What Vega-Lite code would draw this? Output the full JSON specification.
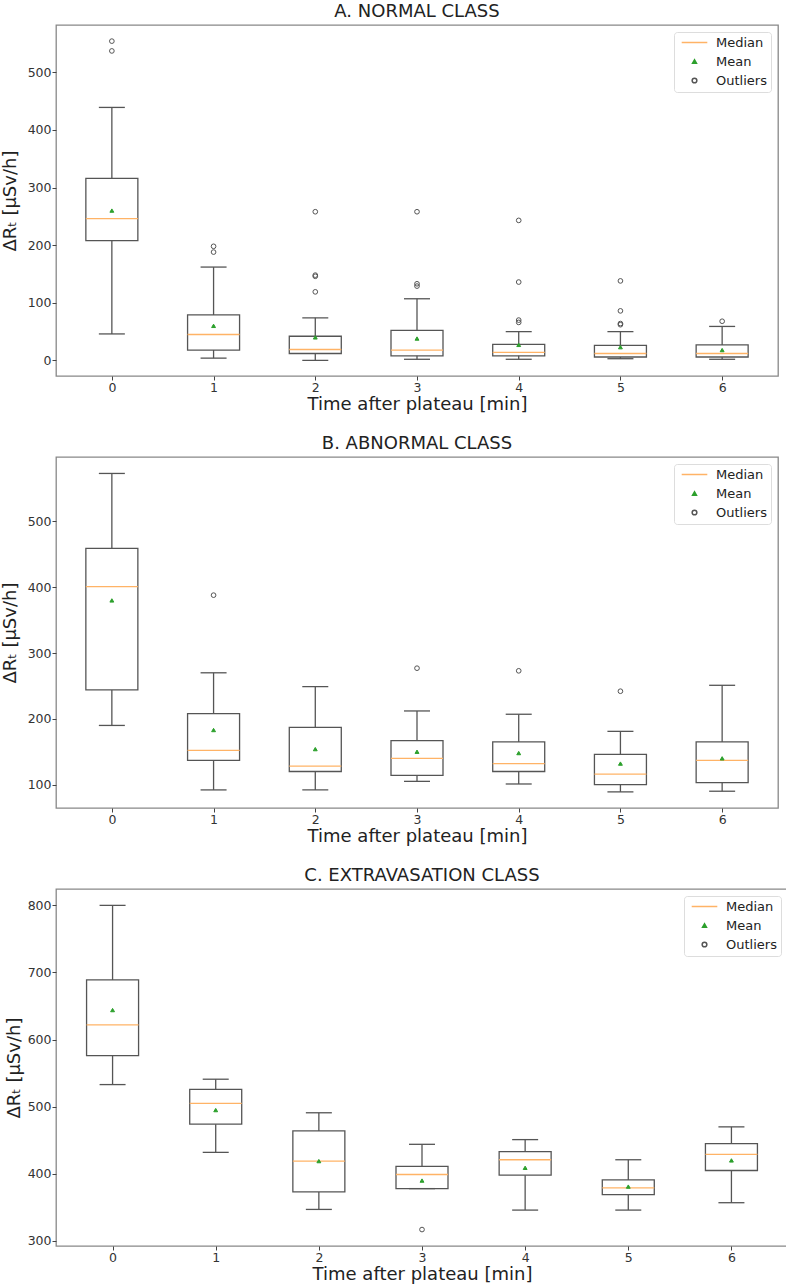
{
  "$schema": "https://vega.github.io/schema/vega-lite/v6.json",
  "description": "Box plots of dose rate decrease after plateau, three classes",
  "padding": {"left": 0, "top": 2, "right": 0, "bottom": 0},
  "spacing": 19,
  "align": "none",
  "datasets": {
    "boxes": [
      {"panel": "A", "t": 0, "lo": 46, "q1": 208, "med": 246, "q3": 316, "hi": 439},
      {"panel": "A", "t": 1, "lo": 4, "q1": 18, "med": 45, "q3": 79, "hi": 162},
      {"panel": "A", "t": 2, "lo": 0, "q1": 12, "med": 19, "q3": 42, "hi": 74},
      {"panel": "A", "t": 3, "lo": 2, "q1": 8, "med": 18, "q3": 52, "hi": 107},
      {"panel": "A", "t": 4, "lo": 2, "q1": 8, "med": 14, "q3": 28, "hi": 50},
      {"panel": "A", "t": 5, "lo": 3, "q1": 6, "med": 12, "q3": 26, "hi": 50},
      {"panel": "A", "t": 6, "lo": 2, "q1": 6, "med": 12, "q3": 27, "hi": 59},
      {"panel": "B", "t": 0, "lo": 190, "q1": 244, "med": 401, "q3": 459, "hi": 573},
      {"panel": "B", "t": 1, "lo": 92, "q1": 137, "med": 152, "q3": 208, "hi": 270},
      {"panel": "B", "t": 2, "lo": 92, "q1": 120, "med": 128, "q3": 187, "hi": 249},
      {"panel": "B", "t": 3, "lo": 105, "q1": 114, "med": 140, "q3": 167, "hi": 212},
      {"panel": "B", "t": 4, "lo": 101, "q1": 120, "med": 132, "q3": 165, "hi": 207},
      {"panel": "B", "t": 5, "lo": 89, "q1": 100, "med": 116, "q3": 146, "hi": 181},
      {"panel": "B", "t": 6, "lo": 90, "q1": 103, "med": 137, "q3": 165, "hi": 251},
      {"panel": "C", "t": 0, "lo": 533, "q1": 576, "med": 622, "q3": 689, "hi": 800},
      {"panel": "C", "t": 1, "lo": 432, "q1": 474, "med": 505, "q3": 526, "hi": 541},
      {"panel": "C", "t": 2, "lo": 347, "q1": 373, "med": 419, "q3": 464, "hi": 491},
      {"panel": "C", "t": 3, "lo": 378, "q1": 378, "med": 399, "q3": 411, "hi": 444},
      {"panel": "C", "t": 4, "lo": 346, "q1": 398, "med": 421, "q3": 433, "hi": 451},
      {"panel": "C", "t": 5, "lo": 346, "q1": 369, "med": 379, "q3": 391, "hi": 421},
      {"panel": "C", "t": 6, "lo": 357, "q1": 405, "med": 429, "q3": 445, "hi": 470}
    ],
    "points": [
      {"panel": "A", "t": 0, "v": 260, "stat": "Mean"},
      {"panel": "A", "t": 1, "v": 60, "stat": "Mean"},
      {"panel": "A", "t": 2, "v": 40, "stat": "Mean"},
      {"panel": "A", "t": 3, "v": 38, "stat": "Mean"},
      {"panel": "A", "t": 4, "v": 27, "stat": "Mean"},
      {"panel": "A", "t": 5, "v": 23, "stat": "Mean"},
      {"panel": "A", "t": 6, "v": 18, "stat": "Mean"},
      {"panel": "A", "t": 0, "v": 554, "stat": "Outliers"},
      {"panel": "A", "t": 0, "v": 537, "stat": "Outliers"},
      {"panel": "A", "t": 1, "v": 198, "stat": "Outliers"},
      {"panel": "A", "t": 1, "v": 188, "stat": "Outliers"},
      {"panel": "A", "t": 2, "v": 258, "stat": "Outliers"},
      {"panel": "A", "t": 2, "v": 148, "stat": "Outliers"},
      {"panel": "A", "t": 2, "v": 146, "stat": "Outliers"},
      {"panel": "A", "t": 2, "v": 119, "stat": "Outliers"},
      {"panel": "A", "t": 3, "v": 258, "stat": "Outliers"},
      {"panel": "A", "t": 3, "v": 133, "stat": "Outliers"},
      {"panel": "A", "t": 3, "v": 129, "stat": "Outliers"},
      {"panel": "A", "t": 4, "v": 243, "stat": "Outliers"},
      {"panel": "A", "t": 4, "v": 136, "stat": "Outliers"},
      {"panel": "A", "t": 4, "v": 70, "stat": "Outliers"},
      {"panel": "A", "t": 4, "v": 66, "stat": "Outliers"},
      {"panel": "A", "t": 5, "v": 138, "stat": "Outliers"},
      {"panel": "A", "t": 5, "v": 86, "stat": "Outliers"},
      {"panel": "A", "t": 5, "v": 64, "stat": "Outliers"},
      {"panel": "A", "t": 5, "v": 62, "stat": "Outliers"},
      {"panel": "A", "t": 6, "v": 68, "stat": "Outliers"},
      {"panel": "B", "t": 0, "v": 380, "stat": "Mean"},
      {"panel": "B", "t": 1, "v": 183, "stat": "Mean"},
      {"panel": "B", "t": 2, "v": 154, "stat": "Mean"},
      {"panel": "B", "t": 3, "v": 150, "stat": "Mean"},
      {"panel": "B", "t": 4, "v": 148, "stat": "Mean"},
      {"panel": "B", "t": 5, "v": 132, "stat": "Mean"},
      {"panel": "B", "t": 6, "v": 140, "stat": "Mean"},
      {"panel": "B", "t": 1, "v": 388, "stat": "Outliers"},
      {"panel": "B", "t": 3, "v": 277, "stat": "Outliers"},
      {"panel": "B", "t": 4, "v": 273, "stat": "Outliers"},
      {"panel": "B", "t": 5, "v": 242, "stat": "Outliers"},
      {"panel": "C", "t": 0, "v": 644, "stat": "Mean"},
      {"panel": "C", "t": 1, "v": 495, "stat": "Mean"},
      {"panel": "C", "t": 2, "v": 419, "stat": "Mean"},
      {"panel": "C", "t": 3, "v": 390, "stat": "Mean"},
      {"panel": "C", "t": 4, "v": 409, "stat": "Mean"},
      {"panel": "C", "t": 5, "v": 381, "stat": "Mean"},
      {"panel": "C", "t": 6, "v": 420, "stat": "Mean"},
      {"panel": "C", "t": 3, "v": 317, "stat": "Outliers"}
    ]
  },
  "vconcat": [
    {
      "title": "A. NORMAL CLASS",
      "width": 722,
      "height": 351,
      "data": {"name": "boxes"},
      "transform": [{"filter": "datum.panel === 'A'"}],
      "encoding": {
        "x": {"field": "t", "type": "quantitative", "scale": {"domain": [-0.5, 6.5], "nice": false, "zero": false},
              "axis": {"values": [0, 1, 2, 3, 4, 5, 6], "format": "d", "title": "Time after plateau [min]", "titlePadding": 2}}
      },
      "layer": [
        {"mark": {"type": "rule", "color": "#555", "strokeWidth": 1.3},
         "encoding": {"y": {"field": "lo", "type": "quantitative", "title": "ΔRₜ  [μSv/h]", "scale": {"domain": [-27, 582], "nice": false, "zero": false},
                            "axis": {"values": [0, 100, 200, 300, 400, 500], "titlePadding": 8}},
                      "y2": {"field": "hi"}}},
        {"mark": {"type": "bar", "size": 52, "fill": "white", "stroke": "#555", "strokeWidth": 1.3},
         "encoding": {"y": {"field": "q1", "type": "quantitative", "title": "ΔRₜ  [μSv/h]"}, "y2": {"field": "q3"}}},
        {"mark": {"type": "tick", "orient": "horizontal", "size": 52, "thickness": 1.3, "color": "#ffb366", "opacity": 1},
         "encoding": {"y": {"field": "med", "type": "quantitative", "title": "ΔRₜ  [μSv/h]"}}},
        {"mark": {"type": "tick", "orient": "horizontal", "size": 26, "thickness": 1.3, "color": "#555", "opacity": 1},
         "encoding": {"y": {"field": "lo", "type": "quantitative", "title": "ΔRₜ  [μSv/h]"}}},
        {"mark": {"type": "tick", "orient": "horizontal", "size": 26, "thickness": 1.3, "color": "#555", "opacity": 1},
         "encoding": {"y": {"field": "hi", "type": "quantitative", "title": "ΔRₜ  [μSv/h]"}}},
        {"data": {"name": "points"},
         "transform": [{"filter": "datum.panel === 'A'"}],
         "mark": {"type": "point", "filled": true, "opacity": 1, "strokeWidth": 1},
         "encoding": {
           "y": {"field": "v", "type": "quantitative", "title": "ΔRₜ  [μSv/h]"},
           "shape": {"field": "stat", "type": "nominal", "scale": {"domain": ["Median", "Mean", "Outliers"], "range": ["M-3.2,0L3.2,0", "triangle-up", "circle"]}, "legend": {"title": null}},
           "fill": {"field": "stat", "type": "nominal", "scale": {"domain": ["Median", "Mean", "Outliers"], "range": ["transparent", "#2ca02c", "transparent"]}, "legend": {"title": null}},
           "stroke": {"field": "stat", "type": "nominal", "scale": {"domain": ["Median", "Mean", "Outliers"], "range": ["#ffb366", "#2ca02c", "#555"]}, "legend": {"title": null}},
           "size": {"field": "stat", "type": "nominal", "scale": {"type": "ordinal", "domain": ["Median", "Mean", "Outliers"], "range": [64, 15, 22]}, "legend": {"title": null}}
         }}
      ]
    },
    {
      "title": "B. ABNORMAL CLASS",
      "width": 722,
      "height": 351,
      "data": {"name": "boxes"},
      "transform": [{"filter": "datum.panel === 'B'"}],
      "encoding": {
        "x": {"field": "t", "type": "quantitative", "scale": {"domain": [-0.5, 6.5], "nice": false, "zero": false},
              "axis": {"values": [0, 1, 2, 3, 4, 5, 6], "format": "d", "title": "Time after plateau [min]", "titlePadding": 2}}
      },
      "layer": [
        {"mark": {"type": "rule", "color": "#555", "strokeWidth": 1.3},
         "encoding": {"y": {"field": "lo", "type": "quantitative", "title": "ΔRₜ  [μSv/h]", "scale": {"domain": [64.5, 598], "nice": false, "zero": false},
                            "axis": {"values": [100, 200, 300, 400, 500], "titlePadding": 8}},
                      "y2": {"field": "hi"}}},
        {"mark": {"type": "bar", "size": 52, "fill": "white", "stroke": "#555", "strokeWidth": 1.3},
         "encoding": {"y": {"field": "q1", "type": "quantitative", "title": "ΔRₜ  [μSv/h]"}, "y2": {"field": "q3"}}},
        {"mark": {"type": "tick", "orient": "horizontal", "size": 52, "thickness": 1.3, "color": "#ffb366", "opacity": 1},
         "encoding": {"y": {"field": "med", "type": "quantitative", "title": "ΔRₜ  [μSv/h]"}}},
        {"mark": {"type": "tick", "orient": "horizontal", "size": 26, "thickness": 1.3, "color": "#555", "opacity": 1},
         "encoding": {"y": {"field": "lo", "type": "quantitative", "title": "ΔRₜ  [μSv/h]"}}},
        {"mark": {"type": "tick", "orient": "horizontal", "size": 26, "thickness": 1.3, "color": "#555", "opacity": 1},
         "encoding": {"y": {"field": "hi", "type": "quantitative", "title": "ΔRₜ  [μSv/h]"}}},
        {"data": {"name": "points"},
         "transform": [{"filter": "datum.panel === 'B'"}],
         "mark": {"type": "point", "filled": true, "opacity": 1, "strokeWidth": 1},
         "encoding": {
           "y": {"field": "v", "type": "quantitative", "title": "ΔRₜ  [μSv/h]"},
           "shape": {"field": "stat", "type": "nominal", "scale": {"domain": ["Median", "Mean", "Outliers"], "range": ["M-3.2,0L3.2,0", "triangle-up", "circle"]}, "legend": {"title": null}},
           "fill": {"field": "stat", "type": "nominal", "scale": {"domain": ["Median", "Mean", "Outliers"], "range": ["transparent", "#2ca02c", "transparent"]}, "legend": {"title": null}},
           "stroke": {"field": "stat", "type": "nominal", "scale": {"domain": ["Median", "Mean", "Outliers"], "range": ["#ffb366", "#2ca02c", "#555"]}, "legend": {"title": null}},
           "size": {"field": "stat", "type": "nominal", "scale": {"type": "ordinal", "domain": ["Median", "Mean", "Outliers"], "range": [64, 15, 22]}, "legend": {"title": null}}
         }}
      ]
    },
    {
      "title": "C. EXTRAVASATION CLASS",
      "width": 732,
      "height": 357,
      "data": {"name": "boxes"},
      "transform": [{"filter": "datum.panel === 'C'"}],
      "encoding": {
        "x": {"field": "t", "type": "quantitative", "scale": {"domain": [-0.5, 6.5], "nice": false, "zero": false},
              "axis": {"values": [0, 1, 2, 3, 4, 5, 6], "format": "d", "title": "Time after plateau [min]", "titlePadding": 2}}
      },
      "layer": [
        {"mark": {"type": "rule", "color": "#555", "strokeWidth": 1.3},
         "encoding": {"y": {"field": "lo", "type": "quantitative", "title": "ΔRₜ  [μSv/h]", "scale": {"domain": [292.5, 824.4], "nice": false, "zero": false},
                            "axis": {"values": [300, 400, 500, 600, 700, 800], "titlePadding": 4}},
                      "y2": {"field": "hi"}}},
        {"mark": {"type": "bar", "size": 52, "fill": "white", "stroke": "#555", "strokeWidth": 1.3},
         "encoding": {"y": {"field": "q1", "type": "quantitative", "title": "ΔRₜ  [μSv/h]"}, "y2": {"field": "q3"}}},
        {"mark": {"type": "tick", "orient": "horizontal", "size": 52, "thickness": 1.3, "color": "#ffb366", "opacity": 1},
         "encoding": {"y": {"field": "med", "type": "quantitative", "title": "ΔRₜ  [μSv/h]"}}},
        {"mark": {"type": "tick", "orient": "horizontal", "size": 26, "thickness": 1.3, "color": "#555", "opacity": 1},
         "encoding": {"y": {"field": "lo", "type": "quantitative", "title": "ΔRₜ  [μSv/h]"}}},
        {"mark": {"type": "tick", "orient": "horizontal", "size": 26, "thickness": 1.3, "color": "#555", "opacity": 1},
         "encoding": {"y": {"field": "hi", "type": "quantitative", "title": "ΔRₜ  [μSv/h]"}}},
        {"data": {"name": "points"},
         "transform": [{"filter": "datum.panel === 'C'"}],
         "mark": {"type": "point", "filled": true, "opacity": 1, "strokeWidth": 1},
         "encoding": {
           "y": {"field": "v", "type": "quantitative", "title": "ΔRₜ  [μSv/h]"},
           "shape": {"field": "stat", "type": "nominal", "scale": {"domain": ["Median", "Mean", "Outliers"], "range": ["M-3.2,0L3.2,0", "triangle-up", "circle"]}, "legend": {"title": null}},
           "fill": {"field": "stat", "type": "nominal", "scale": {"domain": ["Median", "Mean", "Outliers"], "range": ["transparent", "#2ca02c", "transparent"]}, "legend": {"title": null}},
           "stroke": {"field": "stat", "type": "nominal", "scale": {"domain": ["Median", "Mean", "Outliers"], "range": ["#ffb366", "#2ca02c", "#555"]}, "legend": {"title": null}},
           "size": {"field": "stat", "type": "nominal", "scale": {"type": "ordinal", "domain": ["Median", "Mean", "Outliers"], "range": [64, 15, 22]}, "legend": {"title": null}}
         }}
      ]
    }
  ],
  "resolve": {
    "scale": {"x": "independent", "y": "independent", "shape": "independent", "fill": "independent", "stroke": "independent", "size": "independent"},
    "legend": {"shape": "independent", "fill": "independent", "stroke": "independent", "size": "independent"}
  },
  "config": {
    "font": "DejaVu Sans",
    "view": {"stroke": "#888", "strokeWidth": 1.3},
    "axis": {"grid": false, "domain": false, "tickColor": "#444", "tickSize": 4, "labelFontSize": 12.5, "labelColor": "#333",
             "labelPadding": 1, "titleFontSize": 18, "titleFontWeight": "normal", "titleColor": "#222"},
    "title": {"fontSize": 18, "fontWeight": "normal", "color": "#222", "offset": 4},
    "legend": {"orient": "top-right", "offset": 7, "labelFontSize": 13, "labelColor": "#222", "padding": 4, "rowPadding": 5,
               "strokeColor": "#ddd", "fillColor": "white", "cornerRadius": 3, "symbolStrokeWidth": 1.5, "symbolOffset": 10, "labelOffset": 15}
  }
}
